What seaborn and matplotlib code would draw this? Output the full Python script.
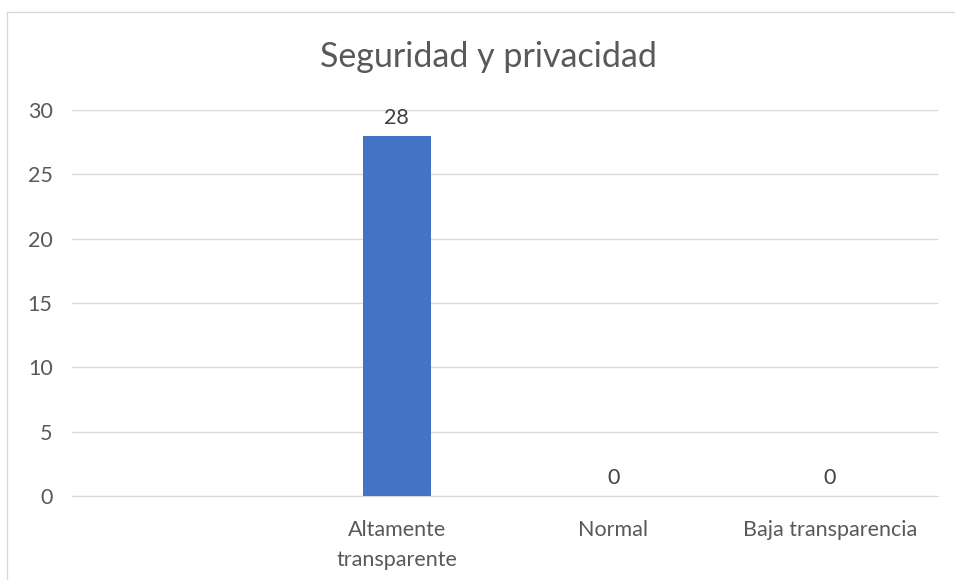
import matplotlib
matplotlib.use("Agg")
import matplotlib.pyplot as plt
import seaborn as sns
import pandas as pd
from matplotlib.lines import Line2D

sns.set_style("white")
plt.rcParams['font.family'] = ['Lato', 'DejaVu Sans']

categorias = ["", "Altamente\ntransparente", "Normal", "Baja transparencia"]
valores = [None, 28, 0, 0]

df = pd.DataFrame({"Categoria": categorias, "Valor": valores})

fig = plt.figure(figsize=(9.55, 5.8), dpi=100)
ax = fig.add_axes([72 / 955, 1 - 496 / 580, (938 - 72) / 955, (496 - 110) / 580])

sns.barplot(data=df, x="Categoria", y="Valor", color="#4472C4", width=0.316,
            saturation=1, linewidth=0, order=categorias, ax=ax, zorder=3)

for i, v in enumerate(valores):
    if v is not None:
        ax.text(i, v + 0.6, f"{v}", ha="center", va="bottom", fontsize=15.5, color="#404040")

ax.set_ylim(0, 30)
ax.set_yticks(range(0, 31, 5))
ax.grid(axis="y", color="#d9d9d9", linewidth=1, zorder=0)
ax.set_axisbelow(True)
for s in ["top", "right", "left"]:
    ax.spines[s].set_visible(False)
ax.spines["bottom"].set_color("#d9d9d9")
ax.tick_params(axis="both", length=0, labelsize=15.5, labelcolor="#595959")
ax.tick_params(axis="y", pad=14)
ax.tick_params(axis="x", pad=17)
for lbl in ax.get_xticklabels():
    lbl.set_linespacing(1.65)
ax.set_xlabel("")
ax.set_ylabel("")

fig.text(488 / 955, 1 - 57 / 580, "Seguridad y privacidad", ha="center", va="center",
         fontsize=24.5, color="#595959")

# chart border (top and left visible)
fig.add_artist(Line2D([7 / 955, 1], [1 - 12 / 580, 1 - 12 / 580], color="#d9d9d9", lw=1))
fig.add_artist(Line2D([7 / 955, 7 / 955], [0, 1 - 12 / 580], color="#d9d9d9", lw=1))

fig.savefig("out.png", dpi=100)
